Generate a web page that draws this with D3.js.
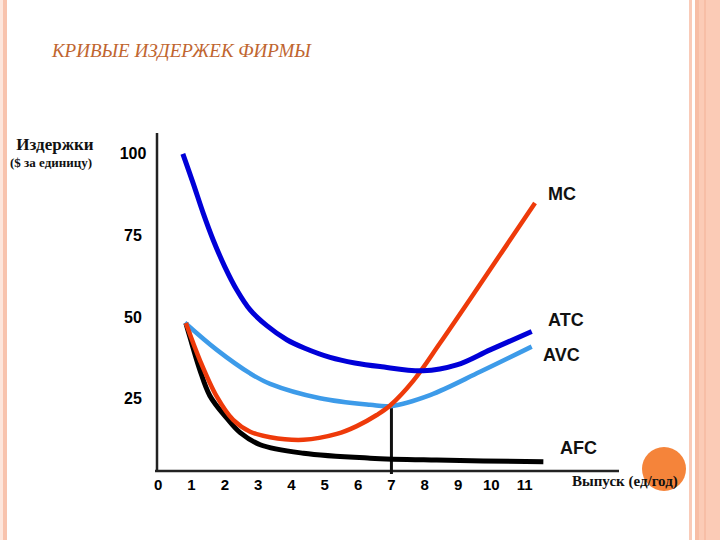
<!DOCTYPE html>
<html>

<head>
    <title>Кривые издержек фирмы</title>
    <script src="https://d3js.org/d3.v7.min.js"></script>
    <style>
        body { margin: 0; background: #fff; }
    </style>
</head>

<body>

    <svg width="720" height="540" id="mainSvg"></svg>
    <script>
        // tick labels
        const outputTicks = [0, 1, 2, 3, 4, 5, 6, 7, 8, 9, 10, 11];
        const costTicks = [100, 75, 50, 25];

        // curves: [output, cost per unit]
        const atc = [[0.74, 99.8], [1.05, 90.8], [1.35, 81.7], [1.65, 73.5], [2.0, 65.3], [2.36, 58.2],
            [2.76, 52.1], [3.26, 47.3], [3.86, 43.0], [4.4, 40.4], [5.16, 37.6], [5.9, 35.9],
            [6.66, 34.8], [7.95, 33.5], [8.96, 35.3], [9.96, 39.9], [11.21, 45.5]];
        const avc = [[0.8, 48.2], [1.76, 39.9], [2.76, 32.7], [3.36, 29.5], [4.86, 25.1],
            [6.36, 23.1], [6.96, 22.7], [8.16, 26.1], [9.66, 33.2], [11.21, 40.9]];
        const mc = [[0.83, 48.1], [1.25, 36.8], [1.76, 25.6], [2.25, 18.5], [2.76, 14.9], [3.36, 13.2],
            [4.36, 12.4], [5.36, 14.2], [5.96, 16.6], [6.56, 20.0], [6.96, 22.9], [7.66, 30.5],
            [8.46, 42.0], [9.36, 55.4], [11.31, 84.8]];
        const afc = [[0.83, 48.1], [0.95, 43.9], [1.25, 33.8], [1.55, 25.9], [2.06, 19.0], [2.46, 14.6],
            [3.06, 10.9], [4.36, 8.3], [6.36, 6.8], [8.36, 6.2], [11.56, 5.7]];
        const curveNames = ["MC", "ATC", "AVC", "AFC"];
        const optimumOutput = 7;
        const optimumCost = 22.7;

        const serif = "'Liberation Serif', 'Times New Roman', 'DejaVu Serif', serif";
        const sans = "'Liberation Sans', Arial, sans-serif";

        const svg = d3.select('#mainSvg');

        // slide border decoration
        svg.append("rect").attr("x", 0).attr("y", 0).attr("width", 3).attr("height", 540).attr("fill", "#fde6dc");
        svg.append("rect").attr("x", 3).attr("y", 0).attr("width", 4).attr("height", 540).attr("fill", "#f8c3ad");
        svg.append("rect").attr("x", 689).attr("y", 0).attr("width", 3).attr("height", 540).attr("fill", "#f9cbb8");
        svg.append("rect").attr("x", 695).attr("y", 0).attr("width", 25).attr("height", 540).attr("fill", "#fbcbb6");
        svg.append("rect").attr("x", 695).attr("y", 0).attr("width", 4).attr("height", 540).attr("fill", "#f7bea6");
        svg.append("rect").attr("x", 704).attr("y", 0).attr("width", 2).attr("height", 540).attr("fill", "#f7bea6");

        svg.append("text")
            .attr("x", 52).attr("y", 57)
            .style("font-family", serif)
            .style("font-style", "italic")
            .style("font-size", "19px")
            .attr("fill", "#c0652f")
            .text("КРИВЫЕ ИЗДЕРЖЕК ФИРМЫ");

        const xScale = d3.scaleLinear().domain([0, 11]).range([158.2, 524.7]);
        const yScale = d3.scaleLinear().domain([0, 100]).range([480.4, 153.3]);
        const axisY = 471;
        const axisX = 157;

        // orange dot behind the x title
        svg.append("circle").attr("cx", 664).attr("cy", 469).attr("r", 22).attr("fill", "#f5843a");

        // axes
        svg.append("line").attr("x1", axisX).attr("x2", axisX).attr("y1", 133).attr("y2", axisY)
            .attr("stroke", "#222").attr("stroke-width", 2.5);
        svg.append("line").attr("x1", 155).attr("x2", 619).attr("y1", axisY).attr("y2", axisY)
            .attr("stroke", "#222").attr("stroke-width", 2.5);

        svg.selectAll(".xTick")
            .data(outputTicks)
            .join("text")
            .attr("class", "xTick")
            .attr("x", d => xScale(d))
            .attr("y", 490)
            .attr("text-anchor", "middle")
            .style("font-family", sans)
            .style("font-weight", "bold")
            .style("font-size", "15px")
            .text(d => d);

        svg.selectAll(".yTick")
            .data(costTicks)
            .join("text")
            .attr("class", "yTick")
            .attr("x", 133)
            .attr("y", d => yScale(d))
            .attr("dy", "0.36em")
            .attr("text-anchor", "middle")
            .style("font-family", sans)
            .style("font-weight", "bold")
            .style("font-size", "16px")
            .text(d => d);

        // axis titles
        svg.append("text")
            .attr("x", 55).attr("y", 150)
            .attr("text-anchor", "middle")
            .style("font-family", serif)
            .style("font-weight", "bold")
            .style("font-size", "17px")
            .attr("fill", "#111")
            .text("Издержки");
        svg.append("text")
            .attr("x", 51).attr("y", 167)
            .attr("text-anchor", "middle")
            .style("font-family", serif)
            .style("font-weight", "bold")
            .style("font-size", "13px")
            .attr("fill", "#111")
            .text("($ за единицу)");
        svg.append("text")
            .attr("x", 572).attr("y", 486)
            .style("font-family", serif)
            .style("font-weight", "bold")
            .style("font-size", "15px")
            .attr("fill", "#111")
            .text("Выпуск (ед/год)");

        // vertical line at the AVC minimum
        svg.append("line")
            .attr("x1", xScale(optimumOutput)).attr("x2", xScale(optimumOutput))
            .attr("y1", yScale(optimumCost)).attr("y2", axisY + 3)
            .attr("stroke", "#111").attr("stroke-width", 3);

        const line = d3.line()
            .x(d => xScale(d[0]))
            .y(d => yScale(d[1]))
            .curve(d3.curveCatmullRom.alpha(0.5));

        const curves = [
            { name: "AFC", data: afc, color: "#000000", width: 5 },
            { name: "AVC", data: avc, color: "#3d9be9", width: 4.5 },
            { name: "MC", data: mc, color: "#ee3a0a", width: 4.5 },
            { name: "ATC", data: atc, color: "#0000d8", width: 5 }
        ];

        svg.selectAll(".curve")
            .data(curves)
            .join("path")
            .attr("class", "curve")
            .attr("d", d => line(d.data))
            .attr("fill", "none")
            .attr("stroke", d => d.color)
            .attr("stroke-width", d => d.width)
            .attr("stroke-linejoin", "round");

        const labelPos = { MC: [548, 200], ATC: [548, 326], AVC: [543, 361], AFC: [560, 454] };
        svg.selectAll(".curveLabel")
            .data(curveNames)
            .join("text")
            .attr("class", "curveLabel")
            .attr("x", d => labelPos[d][0])
            .attr("y", d => labelPos[d][1])
            .style("font-family", sans)
            .style("font-weight", "bold")
            .style("font-size", "18px")
            .attr("fill", "#111")
            .text(d => d);

    </script>
</body>

</html>
